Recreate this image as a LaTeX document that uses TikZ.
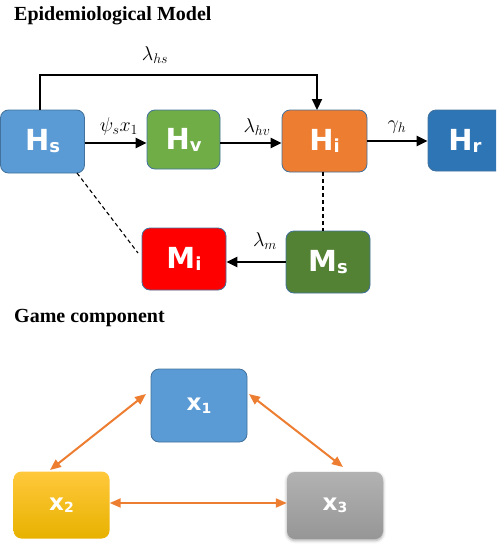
\documentclass[tikz,border=0pt]{standalone}
\usepackage{fix-cm}
\usepackage{fontspec}
\setmainfont{Liberation Serif}
\newfontfamily\boxfont{DejaVu Sans}
\usetikzlibrary{arrows.meta,shadows.blur}
\definecolor{edgeblue}{HTML}{41719C}
\definecolor{hsblue}{HTML}{5B9BD5}
\definecolor{hvgreen}{HTML}{70AD47}
\definecolor{hiorange}{HTML}{ED7D31}
\definecolor{hrblue}{HTML}{2E75B6}
\definecolor{mired}{HTML}{FF0000}
\definecolor{msgreen}{HTML}{548235}
\definecolor{arroworange}{HTML}{ED7D31}
\definecolor{goldtop}{RGB}{255,200,60}
\definecolor{goldbottom}{RGB}{232,178,0}
\definecolor{greytop}{RGB}{178,178,178}
\definecolor{greybottom}{RGB}{150,150,150}
\newcommand{\compartment}[2]{{\boxfont\bfseries\fontsize{29}{30}\selectfont #1\raisebox{-2pt}{\fontsize{18}{18}\selectfont #2}}}
\newcommand{\player}[1]{{\boxfont\bfseries\fontsize{23}{24}\selectfont x\raisebox{-2.5pt}{\fontsize{14}{14}\selectfont #1}}}
\newcommand{\ratelabel}[1]{{\fontsize{20}{22}\selectfont$#1$}}
\tikzset{
  statebox/.style={draw=edgeblue, line width=0.8pt, rounded corners=8pt, text=white,
    minimum height=62pt, inner sep=0pt},
  gamebox/.style={rounded corners=8pt, text=white, inner sep=0pt,
    minimum width=96pt, minimum height=70pt},
  flow/.style={line width=2.2pt, -{Triangle[length=11pt,width=10pt]}},
  link/.style={line width=1.1pt, dash pattern=on 4pt off 3pt},
  play/.style={line width=2pt, draw=arroworange,
    {Triangle[length=11pt,width=9pt]}-{Triangle[length=11pt,width=9pt]}},
  rate/.style={inner sep=0pt},
  heading/.style={font=\fontsize{20}{22}\selectfont\bfseries, anchor=base west, inner sep=0pt}
}
\begin{document}
\begin{tikzpicture}[x=1pt,y=-1pt]
\useasboundingbox (0,0) rectangle (496,546);
\clip (0,0) rectangle (496,546);

% section titles
\node[heading] (t1) at (14,20) {Epidemiological Model};
\node[heading] (t2) at (14,322) {Game component};

% host and mosquito compartments
\node[statebox, fill=hsblue, minimum width=84pt, minimum height=63pt] (hs) at (42.5,141.5) {\compartment{H}{s}};
\node[statebox, fill=hvgreen, minimum width=73pt, minimum height=59pt] (hv) at (183.5,139.5) {\compartment{H}{v}};
\node[statebox, fill=hiorange, minimum width=85pt] (hi) at (324.5,141) {\compartment{H}{i}};
\node[statebox, fill=hrblue, minimum width=100pt, minimum height=61pt] (hr) at (478,140.5) {\phantom{x}};
\node[text=white] (hrtext) at (465,141) {\compartment{H}{r}};
\node[statebox, fill=mired, minimum width=84pt] (mi) at (184,259) {\compartment{M}{i}};
\node[statebox, fill=msgreen, minimum width=84pt] (ms) at (328,262) {\compartment{M}{s}};

% transitions
\coordinate (hsup) at (40,110);
\coordinate (hiup) at (317,110);
\draw[flow] (hsup) -- (40,75) -- (317,75) -- (hiup);
\node[rate] (lhs) at (155,55) {\ratelabel{\lambda_{hs}}};
\draw[flow] (hs.east |- 0,143) -- (hv.west |- 0,143);
\node[rate] (lpsi) at (119,126) {\ratelabel{\psi_s x_1}};
\draw[flow] (hv.east |- 0,143) -- (hi.west |- 0,143);
\node[rate] (lhv) at (257,127) {\ratelabel{\lambda_{hv}}};
\draw[flow] (hi.east |- 0,141) -- (hr.west |- 0,141);
\node[rate] (lgam) at (397,127) {\ratelabel{\gamma_h}};
\draw[flow] (ms.west |- 0,262) -- (mi.east |- 0,262);
\node[rate] (lm) at (265,241) {\ratelabel{\lambda_m}};

% contact links
\coordinate (hsfoot) at (77,173);
\coordinate (mileft) at (138,253);
\draw[link] (hsfoot) -- (mileft);
\draw[link] (hi.south -| 323,0) -- (ms.north -| 323,0);

% strategy populations
\node[gamebox, draw=edgeblue, line width=0.8pt, fill=hsblue, minimum height=73pt] (x1) at (199,405.5) {\player{1}};
\node[gamebox, top color=goldtop, bottom color=goldbottom, minimum height=67pt] (x2) at (61.5,505) {\player{2}};
\node[gamebox, top color=greytop, bottom color=greybottom,
      blur shadow={shadow xshift=0pt, shadow yshift=-1.5pt, shadow blur radius=3pt, shadow opacity=35},
      minimum height=67pt] (x3) at (335,505.5) {\player{3}};

% strategy interactions
\coordinate (x1l) at (146,394);
\coordinate (x2t) at (50,470);
\coordinate (x1r) at (249,394);
\coordinate (x3t) at (343,467);
\draw[play] (x1l) -- (x2t);
\draw[play] (x1r) -- (x3t);
\draw[play] (x2.east |- 0,503) -- (x3.west |- 0,503);
\end{tikzpicture}
\end{document}
